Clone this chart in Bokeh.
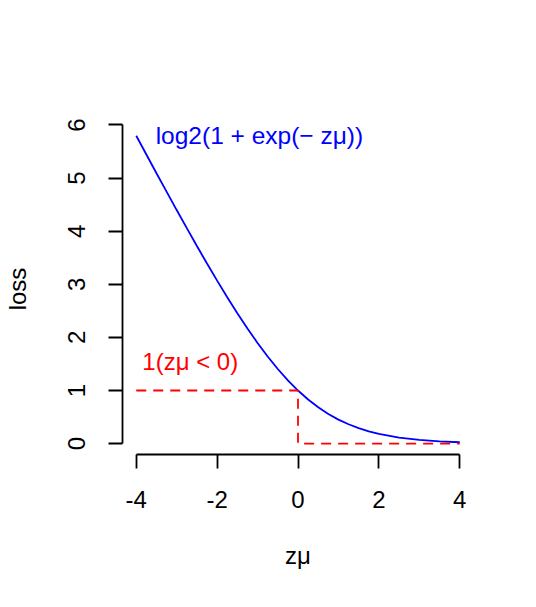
from bokeh.plotting import figure
from bokeh.models import Range1d, FixedTicker, Label
from bokeh.embed import file_html
from bokeh.resources import INLINE

# data
z = [-4.0, -3.75, -3.5, -3.25, -3.0, -2.75, -2.5, -2.25, -2.0, -1.75, -1.5, -1.25,
     -1.0, -0.75, -0.5, -0.25, 0.0, 0.25, 0.5, 0.75, 1.0, 1.25, 1.5, 1.75, 2.0,
     2.5, 3.0, 3.5, 4.0]
logloss = [5.798, 5.444, 5.092, 4.744, 4.398, 4.057, 3.721, 3.391, 3.069, 2.756,
           2.455, 2.167, 1.895, 1.640, 1.405, 1.192, 1.000, 0.831, 0.684, 0.558,
           0.452, 0.364, 0.291, 0.231, 0.183, 0.114, 0.070, 0.043, 0.026]
step_x = [-4, 0, 0, 4]
step_y = [1, 1, 0, 0]
x_ticks = [-4, -2, 0, 2, 4]
x_labels = ["-4", "-2", "0", "2", "4"]
y_ticks = [0, 1, 2, 3, 4, 5, 6]

FONT = "Liberation Sans"
FS = "24px"

p = figure(width=536, height=607, output_backend="svg", toolbar_location=None,
           x_range=Range1d(-4.34, 4.34), y_range=Range1d(-0.205, 6.028),
           min_border_left=122, min_border_right=63, min_border_top=123,
           min_border_bottom=153)
p.outline_line_color = None
p.xgrid.visible = False
p.ygrid.visible = False
p.background_fill_color = "white"
p.border_fill_color = "white"

for ax in (p.xaxis, p.yaxis):
    ax.axis_line_width = 1.8
    ax.major_tick_line_width = 1.8
    ax.axis_line_color = "black"
    ax.major_tick_line_color = "black"
    ax.major_tick_out = 14
    ax.major_tick_in = 0
    ax.minor_tick_line_color = None
    ax.major_label_text_font = FONT
    ax.major_label_text_font_size = FS
    ax.major_label_text_color = "black"
    ax.axis_label_text_font = FONT
    ax.axis_label_text_font_size = FS
    ax.axis_label_text_font_style = "normal"
    ax.axis_label_text_color = "black"

p.xaxis.ticker = FixedTicker(ticks=x_ticks)
p.xaxis.major_label_overrides = {t: l for t, l in zip(x_ticks, x_labels)}
p.yaxis.ticker = FixedTicker(ticks=y_ticks)
p.xaxis.bounds = (-4, 4)
p.yaxis.bounds = (0, 6)
p.yaxis.major_label_orientation = "parallel"
p.xaxis.major_label_standoff = 22
p.yaxis.major_label_standoff = 23
p.xaxis.axis_label = "zμ"
p.yaxis.axis_label = "loss"
p.xaxis.axis_label_standoff = 31
p.yaxis.axis_label_standoff = 35

p.line(z, logloss, line_color="blue", line_width=1.8)
p.line(step_x, step_y, line_color="red", line_width=1.8, line_dash="10 7")

p.add_layout(Label(x=-3.52, y=5.8, text="log2(1 + exp(− zμ))", text_color="blue",
                   text_font=FONT, text_font_size="24.5px", text_align="left",
                   text_baseline="middle"))
p.add_layout(Label(x=-3.85, y=1.55, text="1(zμ < 0)", text_color="red",
                   text_font=FONT, text_font_size=FS, text_align="left",
                   text_baseline="middle"))

open("out.html", "w").write(file_html(p, INLINE))
